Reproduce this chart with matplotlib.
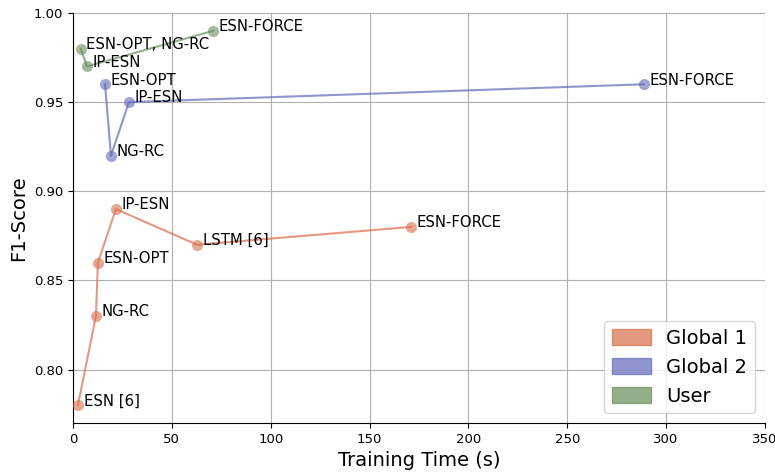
import matplotlib
matplotlib.use("Agg")
import matplotlib.pyplot as plt
from matplotlib.patches import Patch

# Data
g1_names = ["ESN [6]", "NG-RC", "ESN-OPT", "IP-ESN", "LSTM [6]", "ESN-FORCE"]
g1_time = [2.5, 11.6, 12.6, 21.7, 62.7, 171.0]
g1_f1 = [0.78, 0.83, 0.86, 0.89, 0.87, 0.88]

g2_names = ["ESN-OPT", "NG-RC", "IP-ESN", "ESN-FORCE"]
g2_time = [16.2, 19.2, 28.3, 288.8]
g2_f1 = [0.96, 0.92, 0.95, 0.96]

user_names = ["ESN-OPT, NG-RC", "IP-ESN", "ESN-FORCE"]
user_time = [4.0, 7.0, 70.8]
user_f1 = [0.98, 0.97, 0.99]

series = [
    ("Global 1", g1_names, g1_time, g1_f1, "#D86E4B"),
    ("Global 2", g2_names, g2_time, g2_f1, "#6269B8"),
    ("User", user_names, user_time, user_f1, "#698D5B"),
]

fig = plt.figure(figsize=(7.75, 4.72), dpi=100)
ax = fig.add_axes([0.0942, 0.1038, 0.8928, 0.8687])

handles = []
for label, names, xs, ys, col in series:
    ax.plot(xs, ys, "-", color=col, alpha=0.7, lw=1.5, zorder=3)
    ax.plot(xs, ys, "o", color=col, alpha=0.6, ms=8, mew=0, zorder=4)
    for n, x, y in zip(names, xs, ys):
        ax.annotate(n, (x, y), xytext=(4, 3), textcoords="offset points",
                    ha="left", va="center", fontsize=10.7, zorder=5)
    handles.append(Patch(facecolor=col, edgecolor=col, alpha=0.7, label=label))

ax.set_xlim(0, 350)
ax.set_ylim(0.77, 1.0)
ax.set_xticks([0, 50, 100, 150, 200, 250, 300, 350])
ax.set_yticks([0.80, 0.85, 0.90, 0.95, 1.00])
ax.set_yticklabels(["0.80", "0.85", "0.90", "0.95", "1.00"])
ax.tick_params(labelsize=9.5)
ax.grid(True, color="#b0b0b0", lw=0.8)
ax.set_axisbelow(True)
for s in ["top", "right"]:
    ax.spines[s].set_visible(False)
ax.set_xlabel("Training Time (s)", fontsize=14)
ax.set_ylabel("F1-Score", fontsize=14)
ax.legend(handles=handles, loc="lower right", fontsize=14, handlelength=2.0,
          handleheight=0.9)

fig.savefig("out.png", dpi=100)
